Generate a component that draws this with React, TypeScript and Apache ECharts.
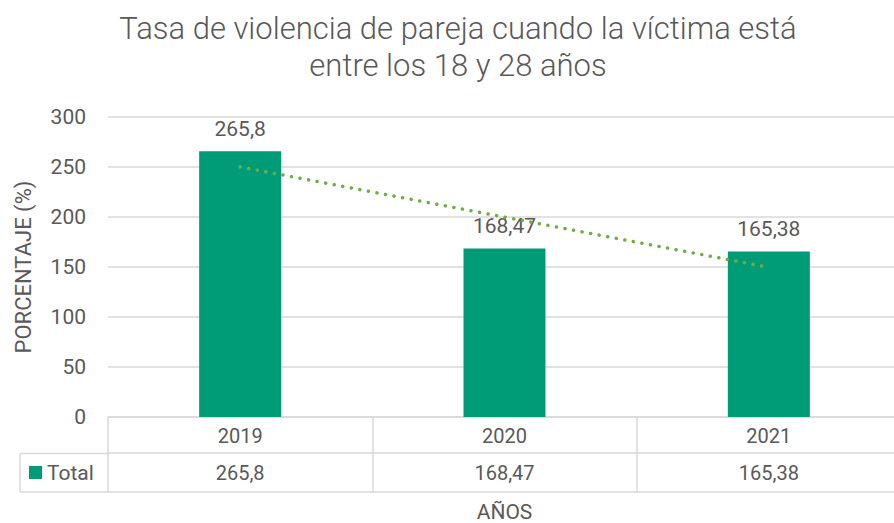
import React, { useEffect, useRef } from "react";
import * as echarts from "echarts";

const titleText = "Tasa de violencia de pareja cuando la víctima está\nentre los 18 y 28 años";
const years = ["2019", "2020", "2021"];
const totals = [265.8, 168.47, 165.38];
const seriesName = "Total";
const yAxisName = "PORCENTAJE (%)";
const xAxisName = "AÑOS";

const fmt = (v: number) => String(v).replace(".", ",");

function trend(vals: number[]): number[] {
  const n = vals.length;
  const xs = vals.map((_, i) => i + 1);
  const mx = xs.reduce((a, b) => a + b, 0) / n;
  const my = vals.reduce((a, b) => a + b, 0) / n;
  let num = 0, den = 0;
  xs.forEach((x, i) => { num += (x - mx) * (vals[i] - my); den += (x - mx) * (x - mx); });
  const b = num / den;
  const a = my - b * mx;
  return xs.map((x) => a + b * x);
}

const FONT = "Roboto, sans-serif";
const TXT = "#595959";
const GRID = "#D9D9D9";
const BAR = "#009B77";
const FS = 20;

export default function App() {
  const ref = useRef<HTMLDivElement>(null);
  useEffect(() => {
    if (!ref.current) return;
    const chart = echarts.init(ref.current, null, { renderer: "svg" });
    chart.setOption({
      animation: false,
      backgroundColor: "#fff",
      textStyle: { fontFamily: FONT },
      title: {
        text: titleText,
        left: 453,
        textAlign: "center",
        top: 5,
        textStyle: { fontFamily: FONT, fontSize: 31, fontWeight: 300, color: TXT, lineHeight: 37 },
      },
      grid: { left: 108, top: 117, width: 793, height: 300, outerBoundsMode: "none", containLabel: false },
      xAxis: [
        {
          type: "category",
          data: years,
          axisLine: { lineStyle: { color: GRID, width: 1.5 } },
          axisTick: { show: true, length: 75, interval: 0, lineStyle: { color: GRID, width: 1.5 } },
          axisLabel: { fontSize: FS, color: TXT, margin: 9, fontFamily: FONT },
        },
        {
          type: "category",
          data: years,
          position: "bottom",
          offset: 36,
          axisLine: { show: true, lineStyle: { color: GRID, width: 1.5 } },
          axisTick: { show: false },
          axisLabel: { fontSize: FS, color: TXT, margin: 10, fontFamily: FONT, formatter: (_v: string, i: number) => fmt(totals[i]) },
        },
        {
          type: "category",
          data: years,
          position: "bottom",
          offset: 75,
          axisLine: { show: true, lineStyle: { color: GRID, width: 1.5 } },
          axisTick: { show: false },
          axisLabel: { show: false },
          name: xAxisName,
          nameLocation: "middle",
          nameGap: 9,
          nameTextStyle: { fontSize: 21, color: TXT, fontFamily: FONT, verticalAlign: "top" },
        },
      ],
      yAxis: {
        type: "value",
        min: 0,
        max: 300,
        interval: 50,
        axisLine: { show: false },
        axisTick: { show: false },
        axisLabel: { fontSize: 21, color: TXT, margin: 22, fontFamily: FONT },
        splitLine: { lineStyle: { color: GRID, width: 1.5 } },
        name: yAxisName,
        nameLocation: "middle",
        nameGap: 74,
        nameTextStyle: { fontSize: 22, color: TXT, fontFamily: FONT },
      },
      series: [
        {
          name: seriesName,
          type: "bar",
          data: totals,
          barWidth: 82,
          itemStyle: { color: BAR },
          label: { show: true, position: "top", distance: 12, fontSize: 21, color: TXT, fontFamily: FONT, formatter: (p: any) => fmt(p.value) },
        },
        {
          name: "trend",
          type: "line",
          data: trend(totals),
          symbol: "none",
          lineStyle: { color: "#70AD47", width: 3.5, type: [0.1, 8.6], cap: "round" },
          z: 5,
        },
      ],
      graphic: [
        { type: "line", shape: { x1: 20, y1: 453.5, x2: 108, y2: 453.5 }, style: { stroke: GRID, lineWidth: 1.5 } },
        { type: "line", shape: { x1: 20, y1: 492, x2: 108, y2: 492 }, style: { stroke: GRID, lineWidth: 1.5 } },
        { type: "line", shape: { x1: 20, y1: 453.5, x2: 20, y2: 492 }, style: { stroke: GRID, lineWidth: 1.5 } },
        { type: "rect", shape: { x: 29, y: 466, width: 13, height: 13 }, style: { fill: BAR } },
        { type: "text", x: 47, y: 473, style: { text: seriesName, fontSize: 21, fill: TXT, fontFamily: FONT, textVerticalAlign: "middle" } },
      ],
    });
    return () => chart.dispose();
  }, []);
  return <div ref={ref} style={{ width: 894, height: 523, position: "absolute", left: 0, top: 0 }} />;
}
